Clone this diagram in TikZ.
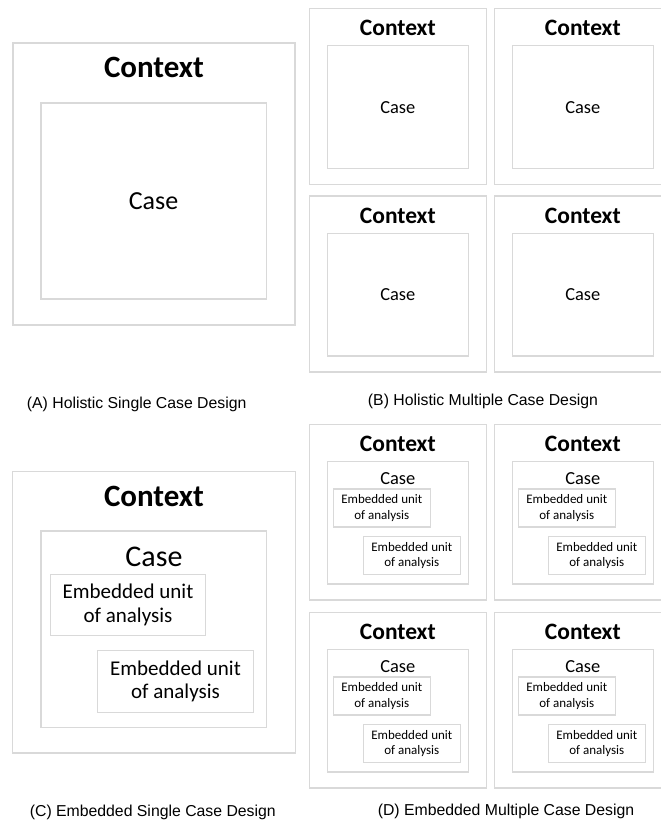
\documentclass[tikz,border=0pt]{standalone}
\usepackage{fontspec}
\setmainfont{Carlito}
\newfontfamily\capfont{Liberation Sans}
\definecolor{boxgray}{HTML}{D9D9D9}
\begin{document}
\begin{tikzpicture}[x=1pt,y=-1pt,
  box/.style={draw=boxgray, line width=1.2pt, inner sep=0pt, outer sep=0pt, anchor=north west},
  lbl/.style={inner sep=0pt, outer sep=0pt, align=center, text=black},
  ctxbig/.style={lbl, font=\fontsize{31}{36}\selectfont\bfseries},
  ctxsmall/.style={lbl, font=\fontsize{23.5}{28}\selectfont\bfseries},
  casesmall/.style={lbl, font=\fontsize{18.4}{22}\selectfont},
  embsmall/.style={lbl, font=\fontsize{13}{15.7}\selectfont},
  embbig/.style={lbl, font=\fontsize{21}{23.3}\selectfont},
  caption/.style={lbl, font=\capfont\fontsize{15.8}{19}\selectfont}]
\useasboundingbox (0,0) rectangle (661,827);
\begin{scope}
\clip (0,0) rectangle (661,827);
% (A) Holistic single case
\node[box, minimum width=282pt, minimum height=282pt] (Aout) at (13,43) {};
\node[box, minimum width=225.7pt, minimum height=196pt] (Ain) at (41,103) {};
\node[ctxbig] (Actx) at (154,67.3) {Context};
\node[lbl, font=\fontsize{26}{31}\selectfont] (Acase) at (153.5,201) {Case};
% (B) Holistic multiple case
\foreach \i/\dx/\dy in {1/0/0, 2/185/0, 3/0/187.7, 4/185/187.7}{
  \node[box, minimum width=177pt, minimum height=176pt] (Bout\i) at (309.3+\dx,8.3+\dy) {};
  \node[box, minimum width=141.4pt, minimum height=122.6pt] (Bin\i) at (327.3+\dx,45.7+\dy) {};
  \node[ctxsmall] (Bctx\i) at (397.8+\dx,27.7+\dy) {Context};
  \node[casesmall] (Bcase\i) at (397.8+\dx,107.3+\dy) {Case};
}
% (C) Embedded single case
\node[box, minimum width=282.6pt, minimum height=281.3pt] (Cout) at (12.7,471.7) {};
\node[box, minimum width=225.7pt, minimum height=196.3pt] (Cin) at (41,531) {};
\node[ctxbig] (Cctx) at (154,496.7) {Context};
\node[lbl, font=\fontsize{30}{35}\selectfont] (Ccase) at (154,557) {Case};
\node[box, minimum width=155.4pt, minimum height=61.4pt] (Cemb1) at (50.3,574.3) {};
\node[embbig] (Cembt1) at (128,605) {Embedded unit\\of analysis};
\node[box, minimum width=155.6pt, minimum height=61.6pt] (Cemb2) at (97.7,650.7) {};
\node[embbig] (Cembt2) at (175.5,681.5) {Embedded unit\\of analysis};
% (D) Embedded multiple case
\foreach \i/\dx/\dy in {1/0/0, 2/185/0, 3/0/188, 4/185/188}{
  \node[box, minimum width=177pt, minimum height=175.7pt] (Dout\i) at (309.5+\dx,424.3+\dy) {};
  \node[box, minimum width=141.4pt, minimum height=122.3pt] (Din\i) at (327.3+\dx,461.7+\dy) {};
  \node[ctxsmall] (Dctx\i) at (397.8+\dx,444+\dy) {Context};
  \node[casesmall] (Dcase\i) at (397.8+\dx,478.3+\dy) {Case};
  \node[box, minimum width=97pt, minimum height=38pt] (Demb1\i) at (333.3+\dx,489+\dy) {};
  \node[embsmall] (Dembt1\i) at (381.8+\dx,508+\dy) {Embedded unit\\of analysis};
  \node[box, minimum width=97pt, minimum height=38.4pt] (Demb2\i) at (363.3+\dx,536.3+\dy) {};
  \node[embsmall] (Dembt2\i) at (411.8+\dx,555.5+\dy) {Embedded unit\\of analysis};
}
\end{scope}
% captions
\node[caption] (capA) at (136.7,404) {(A) Holistic Single Case Design};
\node[caption] (capB) at (483,401) {(B) Holistic Multiple Case Design};
\node[caption] (capC) at (152.8,812) {(C) Embedded Single Case Design};
\node[caption] (capD) at (506,811) {(D) Embedded Multiple Case Design};
\end{tikzpicture}
\end{document}
